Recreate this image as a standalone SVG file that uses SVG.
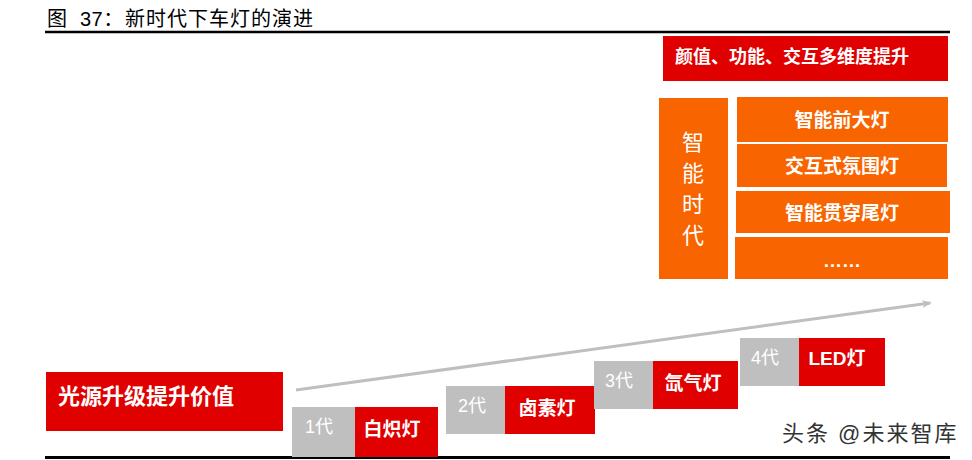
<svg xmlns="http://www.w3.org/2000/svg" width="972" height="460" viewBox="0 0 972 460">
<defs>
<style>
.t{font-family:"Liberation Sans","Noto Sans CJK SC",sans-serif;}
.w{fill:#fff;font-weight:bold;font-size:19px;text-anchor:middle;dominant-baseline:central;}
.g{fill:#fff;font-size:18px;text-anchor:middle;dominant-baseline:central;}
.red{fill:#E00000;}
.org{fill:#F86400;}
.gry{fill:#BFBFBF;}
</style>
<marker id="ah" markerWidth="10" markerHeight="8" refX="8" refY="4" orient="auto" markerUnits="userSpaceOnUse">
<path d="M0,0 L10,4 L0,8 L3,4 Z" fill="#BFBFBF"/>
</marker>
</defs>
<rect width="972" height="460" fill="#fff"/>
<text class="t" x="47" y="26" font-size="20" fill="#000"><tspan>图</tspan><tspan x="80" letter-spacing="0.5">37：</tspan><tspan x="125" letter-spacing="1">新时代下车灯的演进</tspan></text>
<line x1="45" y1="32" x2="950" y2="32" stroke="#000" stroke-width="2.5"/>
<line x1="45" y1="457.5" x2="950" y2="457.5" stroke="#000" stroke-width="3"/>

<g id="connectors">
<line x1="296" y1="390" x2="930" y2="303" stroke="#BFBFBF" stroke-width="3" marker-end="url(#ah)"/>
</g>

<g id="top-banner">
<rect class="red" x="663" y="36" width="285" height="45"/>
<text class="t w" x="675" y="57" style="text-anchor:start;font-size:18px">颜值、功能、交互多维度提升</text>
</g>

<g id="smart-era">
<rect class="org" x="659" y="98" width="69" height="181"/>
<text class="t" fill="#fff" font-size="22" text-anchor="middle" dominant-baseline="central">
<tspan x="693" y="142">智</tspan><tspan x="693" y="173">能</tspan><tspan x="693" y="204">时</tspan><tspan x="693" y="235">代</tspan>
</text>
</g>

<g id="item1"><rect class="org" x="737" y="97" width="211" height="45"/><text class="t w" x="842" y="120">智能前大灯</text></g>
<g id="item2"><rect class="org" x="737" y="144" width="210" height="43"/><text class="t w" x="842" y="166">交互式氛围灯</text></g>
<g id="item3"><rect class="org" x="736" y="191" width="214" height="42"/><text class="t w" x="842" y="213">智能贯穿尾灯</text></g>
<g id="item4"><rect class="org" x="735" y="237" width="213" height="42"/><text class="t w" x="842" y="260">……</text></g>

<g id="light-source">
<rect class="red" x="46" y="372" width="237" height="59"/>
<text class="t w" x="58" y="396" style="text-anchor:start;font-size:22px">光源升级提升价值</text>
</g>

<g id="gen1">
<rect class="gry" x="292" y="407" width="63" height="50"/><text class="t g" x="319" y="427">1代</text>
<rect class="red" x="355" y="407" width="83" height="50"/><text class="t w" x="392" y="429">白炽灯</text>
</g>
<g id="gen2">
<rect class="gry" x="446" y="386" width="59" height="48"/><text class="t g" x="472" y="406">2代</text>
<rect class="red" x="505" y="386" width="90" height="48"/><text class="t w" x="547" y="408">卤素灯</text>
</g>
<g id="gen3">
<rect class="gry" x="594" y="361" width="59" height="48"/><text class="t g" x="619" y="381">3代</text>
<rect class="red" x="653" y="361" width="85" height="48"/><text class="t w" x="693" y="383">氙气灯</text>
</g>
<g id="gen4">
<rect class="gry" x="740" y="338" width="59" height="48"/><text class="t g" x="765" y="358">4代</text>
<rect class="red" x="799" y="338" width="86" height="48"/><text class="t w" x="837" y="358">LED灯</text>
</g>

<text class="t" x="782" y="441" font-size="22" letter-spacing="2" fill="#333">头条 @未来智库</text>
</svg>
